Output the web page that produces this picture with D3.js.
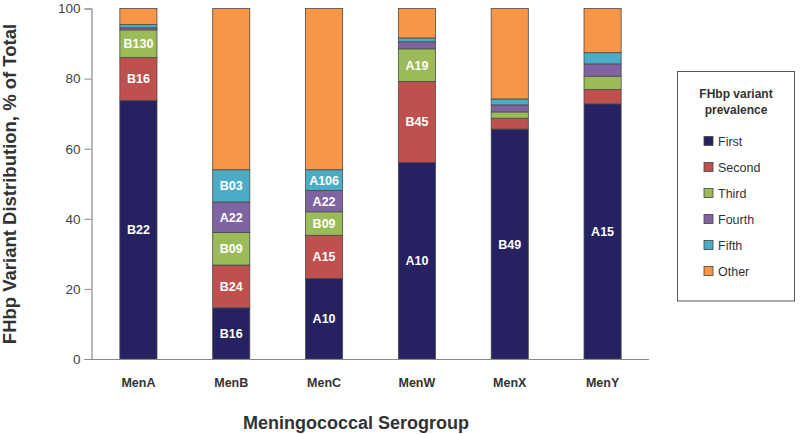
<!DOCTYPE html>
<html>
<head>
<meta charset="utf-8">
<script src="https://cdn.jsdelivr.net/npm/d3@7"></script>
<style>
  html, body { margin: 0; padding: 0; background: #fff; }
  svg { display: block; font-family: "Liberation Sans", Arial, sans-serif; }
</style>
</head>
<body>
<svg id="chart" width="800" height="434"></svg>
<script>
// ---- Data ----
const serogroups = ["MenA", "MenB", "MenC", "MenW", "MenX", "MenY"];
const seriesNames = ["First", "Second", "Third", "Fourth", "Fifth", "Other"];
const firstValues  = [73.8, 14.6, 23.0, 56.1, 65.6, 72.8];
const secondValues = [12.2, 12.2, 12.3, 23.1,  3.1,  4.1];
const thirdValues  = [ 7.9,  9.3,  6.7,  9.3,  1.8,  3.8];
const fourthValues = [ 0.6,  8.7,  6.1,  2.0,  2.0,  3.5];
const fifthValues  = [ 0.9,  9.2,  5.9,  1.1,  1.7,  3.2];
const otherValues  = [ 4.6, 46.0, 46.0,  8.4, 25.8, 12.6];
const firstLabels  = ["B22", "B16", "A10", "A10", "B49", "A15"];
const secondLabels = ["B16", "B24", "A15", "B45", "", ""];
const thirdLabels  = ["B130", "B09", "B09", "A19", "", ""];
const fourthLabels = ["", "A22", "A22", "", "", ""];
const fifthLabels  = ["", "B03", "A106", "", "", ""];
const otherLabels  = ["", "", "", "", "", ""];
const yTicks = [0, 20, 40, 60, 80, 100];
const colors = ["#262262", "#c0504d", "#9bbb59", "#8064a2", "#4bacc6", "#f79646"];

const valueArrays = [firstValues, secondValues, thirdValues, fourthValues, fifthValues, otherValues];
const labelArrays = [firstLabels, secondLabels, thirdLabels, fourthLabels, fifthLabels, otherLabels];

const rows = serogroups.map((g, i) => {
  const r = { group: g };
  seriesNames.forEach((s, k) => { r[s] = valueArrays[k][i]; });
  return r;
});

// ---- Layout ----
const svg = d3.select("#chart");
const x = d3.scaleBand().domain(serogroups).range([92, 649]).paddingInner(0.6).paddingOuter(0.3);
const y = d3.scaleLinear().domain([0, 100]).range([359, 8.5]);
const color = d3.scaleOrdinal().domain(seriesNames).range(colors);

const stacked = d3.stack().keys(seriesNames)(rows);

// Bars
const layers = svg.append("g").selectAll("g").data(stacked).join("g")
  .attr("fill", d => color(d.key));
layers.selectAll("rect").data(d => d.map((p, i) => ({ p, i, key: d.key }))).join("rect")
  .attr("x", d => x(serogroups[d.i]))
  .attr("width", x.bandwidth())
  .attr("y", d => y(d.p[1]))
  .attr("height", d => y(d.p[0]) - y(d.p[1]))
  .attr("stroke", "#4a4a4a")
  .attr("stroke-width", 0.8);

// Segment labels
stacked.forEach((layer, k) => {
  svg.append("g").selectAll("text").data(layer.map((p, i) => ({ p, i })).filter(d => labelArrays[k][d.i]))
    .join("text")
    .attr("x", d => x(serogroups[d.i]) + x.bandwidth() / 2)
    .attr("y", d => (y(d.p[0]) + y(d.p[1])) / 2)
    .attr("dy", "0.36em")
    .attr("text-anchor", "middle")
    .attr("fill", "#fff")
    .attr("font-size", 12.5)
    .attr("font-weight", "bold")
    .text(d => labelArrays[k][d.i]);
});

// Y axis
const yAxis = svg.append("g").attr("transform", "translate(91.5,0)")
  .call(d3.axisLeft(y).tickValues(yTicks).tickSize(7).tickPadding(4));
yAxis.select(".domain").attr("stroke", "#888").attr("stroke-width", 1.2);
yAxis.selectAll(".tick line").attr("stroke", "#888");
yAxis.selectAll(".tick text").attr("fill", "#444").attr("font-size", 13.5)
  .attr("font-family", "Liberation Sans, Arial, sans-serif");

// X axis
const xAxis = svg.append("g").attr("transform", "translate(0,359)")
  .call(d3.axisBottom(x).tickSize(0).tickPadding(19));
xAxis.select(".domain").attr("stroke", "#888").attr("stroke-width", 1.2)
  .attr("d", "M91.5,0.5H649");
xAxis.selectAll(".tick text").attr("fill", "#333").attr("font-size", 12.5).attr("font-weight", "bold")
  .attr("font-family", "Liberation Sans, Arial, sans-serif");

// Axis titles
svg.append("text")
  .attr("x", 356).attr("y", 429)
  .attr("text-anchor", "middle")
  .attr("font-size", 18).attr("font-weight", "bold").attr("fill", "#333")
  .text("Meningococcal Serogroup");
svg.append("text")
  .attr("transform", "translate(16,184) rotate(-90)")
  .attr("text-anchor", "middle")
  .attr("font-size", 18.5).attr("font-weight", "bold").attr("fill", "#333")
  .text("FHbp Variant Distribution, % of Total");

// Legend
const lg = svg.append("g");
lg.append("rect").attr("x", 677.5).attr("y", 71.5).attr("width", 117).attr("height", 229.5)
  .attr("fill", "#fff").attr("stroke", "#555").attr("stroke-width", 1);
lg.append("text").attr("x", 736).attr("y", 98).attr("text-anchor", "middle")
  .attr("font-size", 12).attr("font-weight", "bold").attr("fill", "#333").text("FHbp variant");
lg.append("text").attr("x", 736).attr("y", 114).attr("text-anchor", "middle")
  .attr("font-size", 12).attr("font-weight", "bold").attr("fill", "#333").text("prevalence");
const items = lg.selectAll("g.item").data(seriesNames).join("g").attr("class", "item")
  .attr("transform", (d, i) => `translate(704,${141 + i * 26})`);
items.append("rect").attr("x", 0).attr("y", -4.5).attr("width", 9).attr("height", 9)
  .attr("fill", d => color(d)).attr("stroke", "#444").attr("stroke-width", 0.8);
items.append("text").attr("x", 14).attr("y", 0).attr("dy", "0.36em")
  .attr("font-size", 12.5).attr("fill", "#333").text(d => d);
</script>
</body>
</html>
